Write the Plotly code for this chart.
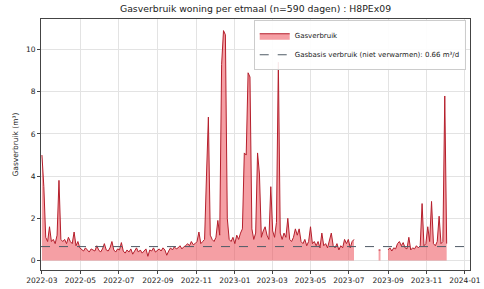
import pandas as pd
import plotly.graph_objects as go

start_date = "2022-03-01"
step = "3D"

gas_part_a = [5.0, 3.5, 1.1, 0.9, 1.6, 0.9, 1.0, 0.8, 1.2, 3.8, 1.0, 0.9, 1.0, 0.8, 1.1, 0.9, 0.8, 1.35, 0.7, 0.9, 0.6,
              0.5, 0.45, 0.6, 0.5, 0.4, 0.55, 0.5, 0.45, 0.7, 0.5, 0.4, 0.55, 0.8, 0.5, 0.45, 0.6, 0.9, 0.5, 0.4, 0.55,
              0.5, 0.85, 0.45, 0.35, 0.5, 0.4, 0.55, 0.3, 0.45, 0.6, 0.4, 0.5, 0.35, 0.45, 0.55, 0.2, 0.5, 0.45, 0.6,
              0.4, 0.5, 0.55, 0.45, 0.6, 0.5, 0.25, 0.45, 0.6, 0.5, 0.65, 0.55, 0.6, 0.7, 0.55, 0.65, 0.7,
              0.8, 0.7, 0.9, 0.75, 0.8, 0.9, 1.35, 0.8, 0.9,
              1.0, 4.0, 6.8, 1.2, 1.0, 0.9, 1.1, 1.9, 1.2, 9.3, 10.9, 10.7, 2.0, 1.0,
              0.9, 1.1, 0.8, 1.2, 1.0, 1.3, 1.5, 5.1, 5.0, 8.9, 8.7, 1.5, 1.0, 1.3,
              5.1, 4.1, 1.1, 1.4, 1.6, 1.2, 1.0, 3.5, 1.4, 1.1, 1.8, 9.4, 1.3, 1.0, 1.3, 1.1, 2.0, 1.0,
              0.9, 1.1, 1.5, 1.2, 1.5, 0.9, 0.8, 1.0, 0.7, 0.9, 1.6, 0.8, 0.9, 0.7, 0.9, 0.6, 1.3, 0.7, 0.8,
              0.6, 0.9, 1.3, 0.7, 0.6, 0.8, 0.5, 0.7, 0.6, 1.0, 0.8, 1.0, 0.6, 0.9, 1.0]
gas_gap = [None, None, None, None, None, None, None, None, None, None, None, None,
           0.5, 0.5, None, None, None]
gas_part_c = [0.5, 0.6, 0.45, 0.6, 0.55, 0.8, 0.9, 0.7, 0.85, 0.6, 0.55, 1.1, 0.5, 0.6, 0.55, 0.7, 0.6,
              0.7, 2.7, 0.7, 0.8, 1.6, 0.9, 2.8, 0.8, 0.7, 0.9, 2.1, 0.8, 0.9, 7.8, 0.8]

base_level = 0.66
x_range = ["2022-02-27 12:00", "2024-01-09"]
tick_months = ["2022-03", "2022-05", "2022-07", "2022-09", "2022-11", "2023-01",
               "2023-03", "2023-05", "2023-07", "2023-09", "2023-11", "2024-01"]
y_ticks = [0, 2, 4, 6, 8, 10]

title_text = "Gasverbruik woning per etmaal (n=590 dagen) : H8PEx09"
legend_gas = "Gasverbruik"
legend_base = f"Gasbasis verbruik (niet verwarmen): {base_level:.2f} m³/d"

gas_values = gas_part_a + gas_gap + gas_part_c
dates = pd.date_range(start_date, periods=len(gas_values), freq=step)

# split into contiguous segments so the fill does not bridge the gap
segments = []
cur_x, cur_y = [], []
for d, v in zip(dates, gas_values):
    if v is None:
        if cur_x:
            segments.append((cur_x, cur_y))
        cur_x, cur_y = [], []
    else:
        cur_x.append(d)
        cur_y.append(v)
if cur_x:
    segments.append((cur_x, cur_y))

fig = go.Figure()
for i, (sx, sy) in enumerate(segments):
    fig.add_trace(go.Scatter(
        x=sx, y=sy, mode="lines", name=legend_gas, legendgroup="gas",
        showlegend=(i == 0),
        line=dict(color="#b51f2c", width=1),
        fill="tozeroy", fillcolor="rgba(236,80,90,0.55)",
    ))
fig.add_trace(go.Scatter(
    x=x_range, y=[base_level, base_level], mode="lines", name=legend_base,
    line=dict(color="#4f5b66", width=1, dash="dash"),
))

font_family = "DejaVu Sans"
fig.update_layout(
    width=484, height=289,
    margin=dict(l=41, r=14, t=19, b=19, autoexpand=False),
    paper_bgcolor="white", plot_bgcolor="white",
    font=dict(family=font_family, size=7, color="#222"),
    title=dict(text=title_text, x=0.5, xref="paper", xanchor="center",
               y=1 - 9 / 289, yref="container", yanchor="middle", automargin=False,
               font=dict(size=9.3, color="#222")),
    legend=dict(x=0.99, y=0.995, xanchor="right", yanchor="top",
                bgcolor="rgba(255,255,255,0.9)", bordercolor="#cccccc", borderwidth=1,
                font=dict(size=7), tracegroupgap=0, itemwidth=30),
    showlegend=True,
)
fig.update_xaxes(
    range=x_range, automargin=False,
    tickvals=[m + "-01" for m in tick_months], ticktext=tick_months,
    showgrid=True, gridcolor="#e3e3e3", gridwidth=1,
    showline=True, linecolor="#444", linewidth=1, mirror=True,
    ticks="outside", ticklen=3, tickcolor="#444", tickfont=dict(size=7.5),
    zeroline=False,
)
fig.update_yaxes(
    range=[-0.45, 11.45], tickvals=y_ticks, automargin=False,
    showgrid=True, gridcolor="#e3e3e3", gridwidth=1,
    showline=True, linecolor="#444", linewidth=1, mirror=True,
    ticks="outside", ticklen=3, tickcolor="#444", tickfont=dict(size=7.5),
    zeroline=False,
    title=dict(text="Gasverbruik (m³)", font=dict(size=7.5), standoff=6),
)

fig.write_html("out.html", config={"displayModeBar": False},
               post_script="document.body.style.margin='0px';")
